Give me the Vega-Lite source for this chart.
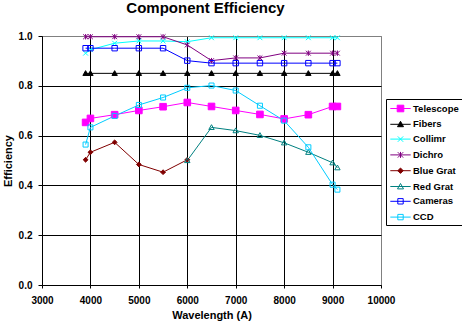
{
  "$schema": "https://vega.github.io/schema/vega-lite/v6.json",
  "autosize": "none",
  "width": 339,
  "height": 249,
  "padding": {"left": 42, "top": 36, "right": 81, "bottom": 44},
  "background": "white",
  "config": {
    "font": "Liberation Sans",
    "view": {"stroke": "#808080", "strokeWidth": 1},
    "legend": {
      "orient": "none", "legendX": 344, "legendY": 63,
      "strokeColor": "black", "fillColor": "white", "padding": 3,
      "symbolSize": 144, "symbolStrokeWidth": 1, "symbolOffset": 5, "rowPadding": 3.8, "symbolOpacity": 1,
      "labelFont": "Liberation Sans", "labelFontSize": 9.5, "labelFontWeight": "bold", "labelColor": "black", "labelOffset": 6
    }
  },
  "title": {"text": "Component Efficiency", "fontSize": 15, "fontWeight": "bold", "font": "Liberation Sans", "color": "black", "anchor": "middle", "offset": 15, "dx": -6},
  "data": {"values": [
    {"series": "Telescope", "wl": 3900, "eff": 0.653},
    {"series": "Telescope", "wl": 4000, "eff": 0.669},
    {"series": "Telescope", "wl": 4500, "eff": 0.684},
    {"series": "Telescope", "wl": 5000, "eff": 0.701},
    {"series": "Telescope", "wl": 5500, "eff": 0.716},
    {"series": "Telescope", "wl": 6000, "eff": 0.733},
    {"series": "Telescope", "wl": 6500, "eff": 0.717},
    {"series": "Telescope", "wl": 7000, "eff": 0.701},
    {"series": "Telescope", "wl": 7500, "eff": 0.685},
    {"series": "Telescope", "wl": 8000, "eff": 0.667},
    {"series": "Telescope", "wl": 8500, "eff": 0.684},
    {"series": "Telescope", "wl": 9000, "eff": 0.717},
    {"series": "Telescope", "wl": 9100, "eff": 0.717},
    {"series": "Fibers", "wl": 3900, "eff": 0.85},
    {"series": "Fibers", "wl": 4000, "eff": 0.85},
    {"series": "Fibers", "wl": 4500, "eff": 0.85},
    {"series": "Fibers", "wl": 5000, "eff": 0.85},
    {"series": "Fibers", "wl": 5500, "eff": 0.85},
    {"series": "Fibers", "wl": 6000, "eff": 0.85},
    {"series": "Fibers", "wl": 6500, "eff": 0.85},
    {"series": "Fibers", "wl": 7000, "eff": 0.85},
    {"series": "Fibers", "wl": 7500, "eff": 0.85},
    {"series": "Fibers", "wl": 8000, "eff": 0.85},
    {"series": "Fibers", "wl": 8500, "eff": 0.85},
    {"series": "Fibers", "wl": 9000, "eff": 0.85},
    {"series": "Fibers", "wl": 9100, "eff": 0.85},
    {"series": "Collimr", "wl": 3900, "eff": 0.931},
    {"series": "Collimr", "wl": 4000, "eff": 0.945},
    {"series": "Collimr", "wl": 4500, "eff": 0.971},
    {"series": "Collimr", "wl": 5000, "eff": 0.98},
    {"series": "Collimr", "wl": 5500, "eff": 0.98},
    {"series": "Collimr", "wl": 6000, "eff": 0.977},
    {"series": "Collimr", "wl": 6500, "eff": 0.993},
    {"series": "Collimr", "wl": 7000, "eff": 0.993},
    {"series": "Collimr", "wl": 7500, "eff": 0.993},
    {"series": "Collimr", "wl": 8000, "eff": 0.993},
    {"series": "Collimr", "wl": 8500, "eff": 0.993},
    {"series": "Collimr", "wl": 9000, "eff": 0.993},
    {"series": "Collimr", "wl": 9100, "eff": 0.993},
    {"series": "Dichro", "wl": 3900, "eff": 0.997},
    {"series": "Dichro", "wl": 4000, "eff": 0.997},
    {"series": "Dichro", "wl": 4500, "eff": 0.997},
    {"series": "Dichro", "wl": 5000, "eff": 0.997},
    {"series": "Dichro", "wl": 5500, "eff": 0.997},
    {"series": "Dichro", "wl": 6000, "eff": 0.964},
    {"series": "Dichro", "wl": 6500, "eff": 0.901},
    {"series": "Dichro", "wl": 7000, "eff": 0.912},
    {"series": "Dichro", "wl": 7500, "eff": 0.912},
    {"series": "Dichro", "wl": 8000, "eff": 0.931},
    {"series": "Dichro", "wl": 8500, "eff": 0.931},
    {"series": "Dichro", "wl": 9000, "eff": 0.931},
    {"series": "Dichro", "wl": 9100, "eff": 0.931},
    {"series": "Blue Grat", "wl": 3900, "eff": 0.503},
    {"series": "Blue Grat", "wl": 4000, "eff": 0.533},
    {"series": "Blue Grat", "wl": 4500, "eff": 0.573},
    {"series": "Blue Grat", "wl": 5000, "eff": 0.484},
    {"series": "Blue Grat", "wl": 5500, "eff": 0.453},
    {"series": "Blue Grat", "wl": 6000, "eff": 0.503},
    {"series": "Red Grat", "wl": 6000, "eff": 0.5},
    {"series": "Red Grat", "wl": 6500, "eff": 0.633},
    {"series": "Red Grat", "wl": 7000, "eff": 0.62},
    {"series": "Red Grat", "wl": 7500, "eff": 0.601},
    {"series": "Red Grat", "wl": 8000, "eff": 0.571},
    {"series": "Red Grat", "wl": 8500, "eff": 0.533},
    {"series": "Red Grat", "wl": 9000, "eff": 0.491},
    {"series": "Red Grat", "wl": 9100, "eff": 0.471},
    {"series": "Cameras", "wl": 3900, "eff": 0.951},
    {"series": "Cameras", "wl": 4000, "eff": 0.951},
    {"series": "Cameras", "wl": 4500, "eff": 0.951},
    {"series": "Cameras", "wl": 5000, "eff": 0.951},
    {"series": "Cameras", "wl": 5500, "eff": 0.951},
    {"series": "Cameras", "wl": 6000, "eff": 0.901},
    {"series": "Cameras", "wl": 6500, "eff": 0.891},
    {"series": "Cameras", "wl": 7000, "eff": 0.891},
    {"series": "Cameras", "wl": 7500, "eff": 0.891},
    {"series": "Cameras", "wl": 8000, "eff": 0.891},
    {"series": "Cameras", "wl": 8500, "eff": 0.891},
    {"series": "Cameras", "wl": 9000, "eff": 0.891},
    {"series": "Cameras", "wl": 9100, "eff": 0.891},
    {"series": "CCD", "wl": 3900, "eff": 0.564},
    {"series": "CCD", "wl": 4000, "eff": 0.633},
    {"series": "CCD", "wl": 4500, "eff": 0.679},
    {"series": "CCD", "wl": 5000, "eff": 0.723},
    {"series": "CCD", "wl": 5500, "eff": 0.753},
    {"series": "CCD", "wl": 6000, "eff": 0.792},
    {"series": "CCD", "wl": 6500, "eff": 0.801},
    {"series": "CCD", "wl": 7000, "eff": 0.781},
    {"series": "CCD", "wl": 7500, "eff": 0.72},
    {"series": "CCD", "wl": 8000, "eff": 0.66},
    {"series": "CCD", "wl": 8500, "eff": 0.553},
    {"series": "CCD", "wl": 9000, "eff": 0.403},
    {"series": "CCD", "wl": 9100, "eff": 0.383}
  ]},
  "encoding": {
    "x": {
      "field": "wl", "type": "quantitative",
      "scale": {"domain": [3000, 10000], "nice": false, "zero": false},
      "axis": {
        "title": "Wavelength (A)", "values": [3000, 4000, 5000, 6000, 7000, 8000, 9000, 10000],
        "format": "d", "grid": true,
        "gridColor": {"condition": {"test": "datum.value === 10000", "value": "#808080"}, "value": "black"},
        "gridOpacity": 1, "gridWidth": 1,
        "domainColor": "black", "domainWidth": 1,
        "tickColor": "black", "tickSize": 3, "tickWidth": 1,
        "labelFont": "Liberation Sans", "labelFontSize": 10, "labelFontWeight": "bold", "labelColor": "black", "labelPadding": 7, "labelFlush": false,
        "titleFont": "Liberation Sans", "titleFontSize": 11, "titleFontWeight": "bold", "titleColor": "black", "titlePadding": 4
      }
    },
    "y": {
      "field": "eff", "type": "quantitative",
      "scale": {"domain": [0, 1], "nice": false},
      "axis": {
        "title": "Efficiency", "values": [0, 0.2, 0.4, 0.6, 0.8, 1.0],
        "format": ".1f", "grid": true,
        "gridColor": {"condition": {"test": "datum.value === 1", "value": "#808080"}, "value": "black"},
        "gridOpacity": 1, "gridWidth": 1,
        "domainColor": "black", "domainWidth": 1,
        "tickColor": "black", "tickSize": 4, "tickWidth": 1,
        "labelFont": "Liberation Sans", "labelFontSize": 10, "labelFontWeight": "bold", "labelColor": "black", "labelPadding": 6,
        "titleFont": "Liberation Sans", "titleFontSize": 11, "titleFontWeight": "bold", "titleColor": "black", "titlePadding": 5
      }
    }
  },
  "resolve": {
    "scale": {"shape": "independent", "stroke": "independent", "fill": "independent"},
    "legend": {"shape": "independent", "stroke": "independent", "fill": "independent"}
  },
  "layer": [
    {
      "mark": {"type": "line", "strokeWidth": 1},
      "encoding": {
        "color": {
          "field": "series", "type": "nominal", "legend": null,
          "scale": {
            "domain": ["Telescope", "Fibers", "Collimr", "Dichro", "Blue Grat", "Red Grat", "Cameras", "CCD"],
            "range": ["#FF00FF", "#000000", "#00FFFF", "#800080", "#800000", "#008080", "#0000FF", "#00CCFF"]
          }
        }
      }
    },
    {
      "mark": {"type": "point", "size": 144, "strokeWidth": 1, "opacity": 1},
      "encoding": {
        "shape": {
          "field": "series", "type": "nominal", "legend": null,
          "scale": {
            "domain": ["Telescope", "Fibers", "Collimr", "Dichro", "Blue Grat", "Red Grat", "Cameras", "CCD"],
            "range": [
              "M-0.55,-0.55H0.55V0.55H-0.55Z",
              "M0,-0.45L0.45,0.35H-0.45Z",
              "M-0.4,-0.4L0.4,0.4M-0.4,0.4L0.4,-0.4",
              "M-0.4,-0.4L0.4,0.4M-0.4,0.4L0.4,-0.4M0,-0.45V0.45",
              "M0,-0.4L0.4,0L0,0.4L-0.4,0Z",
              "M0,-0.45L0.45,0.35H-0.45Z",
              "M-0.45,-0.45H0.45V0.45H-0.45Z",
              "M-0.42,-0.42H0.42V0.42H-0.42Z"
            ]
          }
        },
        "stroke": {
          "field": "series", "type": "nominal", "legend": null,
          "scale": {
            "domain": ["Telescope", "Fibers", "Collimr", "Dichro", "Blue Grat", "Red Grat", "Cameras", "CCD"],
            "range": ["#FF00FF", "#000000", "#00FFFF", "#800080", "#800000", "#008080", "#0000FF", "#00CCFF"]
          }
        },
        "fill": {
          "field": "series", "type": "nominal", "legend": null,
          "scale": {
            "domain": ["Telescope", "Fibers", "Collimr", "Dichro", "Blue Grat", "Red Grat", "Cameras", "CCD"],
            "range": ["#FF00FF", "#000000", "transparent", "transparent", "#800000", "transparent", "transparent", "transparent"]
          }
        }
      }
    },
    {
      "mark": {"type": "point", "size": 144, "strokeWidth": 1, "opacity": 0},
      "encoding": {
        "shape": {
          "field": "series", "type": "nominal", "legend": {"title": null},
          "scale": {
            "domain": ["Telescope", "Fibers", "Collimr", "Dichro", "Blue Grat", "Red Grat", "Cameras", "CCD"],
            "range": [
              "M-1.7,0H1.7M-0.55,-0.55H0.55V0.55H-0.55Z",
              "M-1.7,0H1.7M0,-0.5L0.5,0.4H-0.5Z",
              "M-1.7,0H1.7M-0.45,-0.45L0.45,0.45M-0.45,0.45L0.45,-0.45",
              "M-1.7,0H1.7M-0.45,-0.45L0.45,0.45M-0.45,0.45L0.45,-0.45M0,-0.5V0.5",
              "M-1.7,0H1.7M0,-0.45L0.45,0L0,0.45L-0.45,0Z",
              "M-1.7,0H1.7M0,-0.5L0.5,0.4H-0.5Z",
              "M-1.7,0H1.7M-0.45,-0.45H0.45V0.45H-0.45Z",
              "M-1.7,0H1.7M-0.45,-0.45H0.45V0.45H-0.45Z"
            ]
          }
        },
        "stroke": {
          "field": "series", "type": "nominal", "legend": {"title": null},
          "scale": {
            "domain": ["Telescope", "Fibers", "Collimr", "Dichro", "Blue Grat", "Red Grat", "Cameras", "CCD"],
            "range": ["#FF00FF", "#000000", "#00FFFF", "#800080", "#800000", "#008080", "#0000FF", "#00CCFF"]
          }
        },
        "fill": {
          "field": "series", "type": "nominal", "legend": {"title": null},
          "scale": {
            "domain": ["Telescope", "Fibers", "Collimr", "Dichro", "Blue Grat", "Red Grat", "Cameras", "CCD"],
            "range": ["#FF00FF", "#000000", "transparent", "transparent", "#800000", "transparent", "transparent", "transparent"]
          }
        }
      }
    }
  ]
}
